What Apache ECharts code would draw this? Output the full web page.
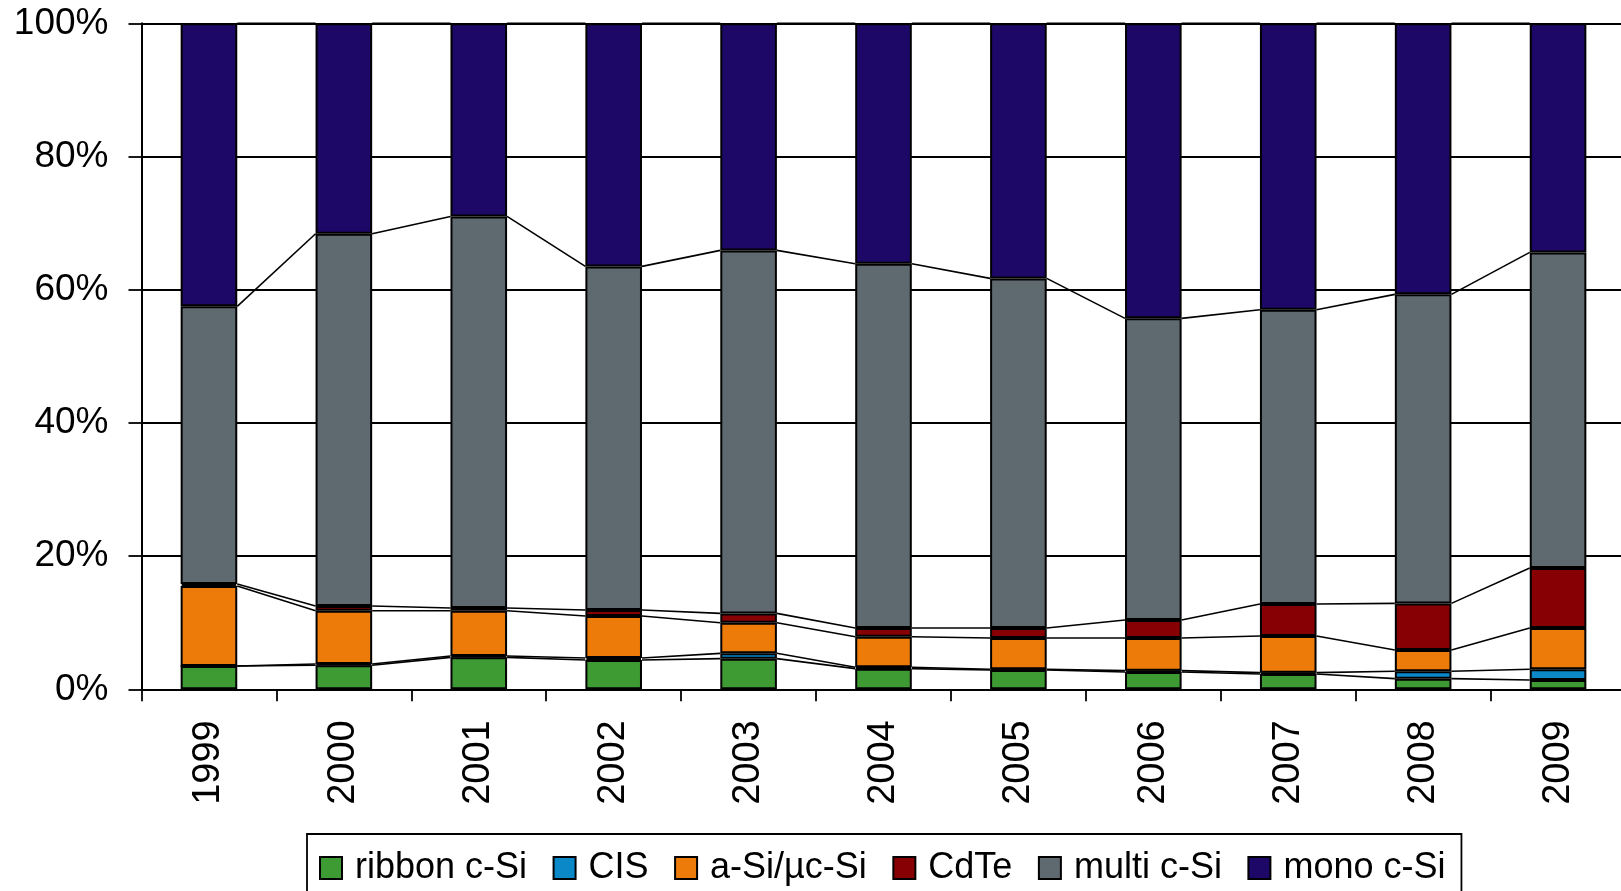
<!DOCTYPE html>
<html>
<head>
<meta charset="utf-8">
<script src="https://cdn.jsdelivr.net/npm/echarts@6/dist/echarts.min.js"></script>
<style>
html,body{margin:0;padding:0;background:#fff;}
#chart{width:1621px;height:891px;}
</style>
</head>
<body>
<div id="chart"></div>
<script>
const years = ['1999','2000','2001','2002','2003','2004','2005','2006','2007','2008','2009'];
const yTicks = [0, 20, 40, 60, 80, 100];
const seriesNames = ['ribbon c-Si','CIS','a-Si/\u00b5c-Si','CdTe','multi c-Si','mono c-Si'];
const ribbon = [3.5, 3.6, 4.8, 4.4, 4.6, 3.1, 2.9, 2.6, 2.3, 1.6, 1.4];
const cis    = [0.0, 0.2, 0.2, 0.3, 0.8, 0.2, 0.1, 0.2, 0.2, 1.1, 1.6];
const asi    = [12.0, 8.0, 6.8, 6.3, 4.6, 4.6, 4.7, 4.9, 5.5, 3.2, 6.2];
const cdte   = [0.3, 0.7, 0.4, 0.9, 1.4, 1.3, 1.5, 2.7, 4.8, 7.0, 9.0];
const multi  = [41.7, 55.9, 58.8, 51.6, 54.5, 54.7, 52.5, 45.3, 44.2, 46.4, 47.4];
const mono   = [42.5, 31.6, 29.0, 36.5, 34.1, 36.1, 38.3, 44.3, 43.0, 40.7, 34.4];

const colors = ['#3E9A33', '#0A88C8', '#EC7B0A', '#870003', '#5F6970', '#1E0867'];
const allSeries = [ribbon, cis, asi, cdte, multi, mono];
const BAR_W = 56.6;
const FONT = '"Liberation Sans", Arial, sans-serif';

// cumulative tops per category
function cumAt(i) {
  const out = [];
  let s = 0;
  for (const arr of allSeries) { s += arr[i]; out.push(s); }
  return out;
}
const lineRows = [];
for (let i = 0; i < years.length - 1; i++) {
  lineRows.push([i].concat(cumAt(i), cumAt(i + 1)));
}

const barSeries = allSeries.map((arr, k) => ({
  name: seriesNames[k],
  type: 'bar',
  stack: 'total',
  barWidth: BAR_W,
  data: arr,
  itemStyle: { color: colors[k], borderColor: '#000', borderWidth: 2 },
  emphasis: { disabled: true },
  animation: false,
  z: 2
}));

const nLevels = allSeries.length;
const linesSeries = {
  type: 'custom',
  name: 'series lines',
  data: lineRows,
  encode: { x: 0, y: 1 },
  animation: false,
  silent: true,
  z: 3,
  renderItem: function (params, api) {
    const i = api.value(0);
    const children = [];
    for (let k = 0; k < nLevels; k++) {
      const p1 = api.coord([i, api.value(1 + k)]);
      const p2 = api.coord([i + 1, api.value(1 + nLevels + k)]);
      children.push({
        type: 'line',
        shape: { x1: p1[0] + BAR_W / 2, y1: p1[1], x2: p2[0] - BAR_W / 2, y2: p2[1] },
        style: { stroke: '#000', lineWidth: 1.6 }
      });
    }
    return { type: 'group', children: children };
  }
};

const chart = echarts.init(document.getElementById('chart'), null, { renderer: 'canvas' });
chart.setOption({
  animation: false,
  backgroundColor: '#fff',
  grid: { left: 141.5, top: 23.3, width: 1484, height: 666, containLabel: false, outerBoundsMode: 'none' },
  legend: {
    data: seriesNames,
    left: 307,
    top: 834,
    orient: 'horizontal',
    padding: [16, 16, 40, 12],
    itemGap: 25.5,
    itemWidth: 22,
    itemHeight: 22,
    icon: 'rect',
    borderColor: '#000',
    borderWidth: 1.8,
    selectedMode: false,
    textStyle: { fontSize: 36, fontFamily: FONT, color: '#000', padding: [0, 0, 0, 8] }
  },
  xAxis: {
    type: 'category',
    data: years,
    boundaryGap: true,
    axisLine: { show: true, lineStyle: { color: '#000', width: 2 } },
    axisTick: { show: true, length: 12, lineStyle: { color: '#000', width: 1.8 } },
    axisLabel: { rotate: 90, margin: 31, fontSize: 38, fontFamily: FONT, color: '#000', interval: 0 },
    splitLine: { show: false }
  },
  yAxis: {
    type: 'value',
    min: yTicks[0],
    max: yTicks[yTicks.length - 1],
    interval: yTicks[1] - yTicks[0],
    axisLine: { show: true, lineStyle: { color: '#000', width: 2 } },
    axisTick: { show: true, length: 13, lineStyle: { color: '#000', width: 1.8 } },
    axisLabel: { formatter: '{value}%', margin: 33, fontSize: 37, fontFamily: FONT, color: '#000' },
    splitLine: { show: true, lineStyle: { color: '#000', width: 1.8 } }
  },
  series: barSeries.concat([linesSeries])
});
</script>
</body>
</html>
